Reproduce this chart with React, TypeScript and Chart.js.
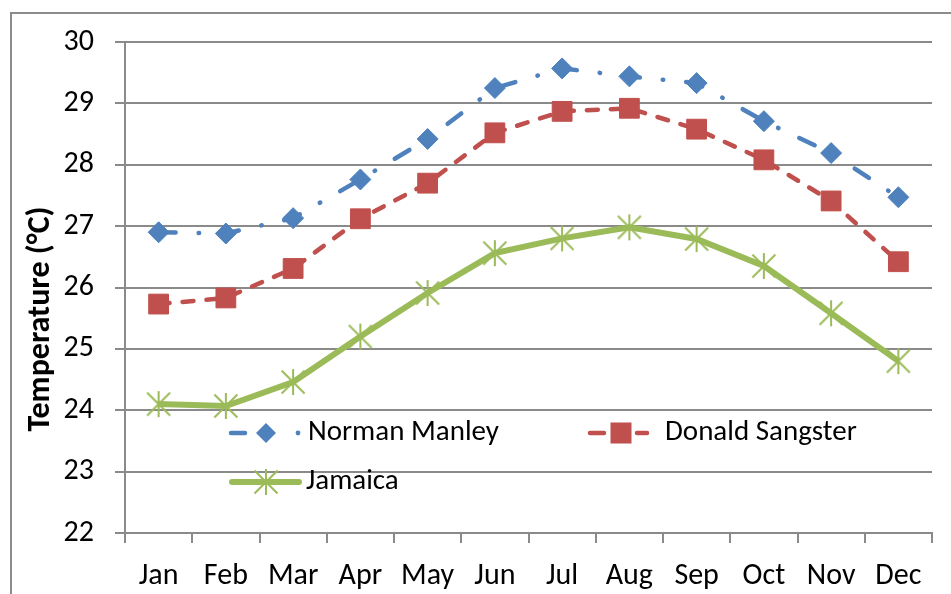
import React, { useEffect, useRef } from "react";
import { Chart, registerables } from "chart.js";

Chart.register(...registerables);

// ---- data ----
const months = ["Jan", "Feb", "Mar", "Apr", "May", "Jun", "Jul", "Aug", "Sep", "Oct", "Nov", "Dec"];
const normanManley = [26.9, 26.88, 27.13, 27.76, 28.42, 29.25, 29.57, 29.44, 29.33, 28.71, 28.19, 27.47];
const donaldSangster = [25.73, 25.83, 26.31, 27.12, 27.7, 28.52, 28.87, 28.92, 28.58, 28.08, 27.41, 26.42];
const jamaica = [24.1, 24.07, 24.46, 25.2, 25.91, 26.56, 26.8, 26.98, 26.79, 26.35, 25.58, 24.8];
const seriesNames = ["Norman Manley", "Donald Sangster", "Jamaica"];
const yMin = 22;
const yMax = 30;
const yStep = 1;
const yTitle = "Temperature (°C)";

// ---- styles ----
const BLUE = "#4F81BD";
const RED = "#C0504D";
const GREEN = "#9BBB59";
const GRID = "#8a8a8a";

function pickFamily(): { family: string; scale: number } {
  const ctx = document.createElement("canvas").getContext("2d")!;
  const probe = "Norman Manley iiWW";
  ctx.font = "100px monospace";
  const mono = ctx.measureText(probe).width;
  let family = "Lato";
  for (const c of ["Carlito", "Lato"]) {
    ctx.font = `100px "${c}", monospace`;
    if (Math.abs(ctx.measureText(probe).width - mono) > 0.5) {
      family = c;
      break;
    }
  }
  ctx.font = `100px "${family}"`;
  const w = ctx.measureText("Norman Manley").width;
  return { family, scale: 659 / w };
}

function makeStar(color: string): HTMLCanvasElement {
  const c = document.createElement("canvas");
  c.width = 30;
  c.height = 30;
  const g = c.getContext("2d")!;
  g.strokeStyle = color;
  g.lineWidth = 2;
  const h = 11.5;
  const v = 13;
  g.beginPath();
  g.moveTo(15 - h, 15 - h);
  g.lineTo(15 + h, 15 + h);
  g.moveTo(15 + h, 15 - h);
  g.lineTo(15 - h, 15 + h);
  g.moveTo(15, 15 - v);
  g.lineTo(15, 15 + v);
  g.stroke();
  return c;
}

export default function App() {
  const ref = useRef<HTMLCanvasElement | null>(null);

  useEffect(() => {
    if (!ref.current) return;
    const { family, scale } = pickFamily();
    const fs = (px: number) => Math.round(px * scale * 10) / 10;
    const tickFont = { family, size: fs(30) };
    const star = makeStar(GREEN);

    const NM_DASH = [17, 23, 0.5, 23];
    const DS_DASH = [11, 13];

    const decor = {
      id: "decor",
      beforeDraw(chart: any) {
        const ctx = chart.ctx as CanvasRenderingContext2D;
        ctx.save();
        ctx.strokeStyle = "#8c8c8c";
        ctx.lineWidth = 2;
        ctx.strokeRect(11, 13, 1200, 1200);
        ctx.restore();
      },
      afterDraw(chart: any) {
        const ctx = chart.ctx as CanvasRenderingContext2D;
        // axis title
        ctx.save();
        ctx.translate(41, 319);
        ctx.rotate(-Math.PI / 2);
        ctx.font = `bold ${fs(32)}px "${family}"`;
        ctx.textAlign = "center";
        ctx.textBaseline = "middle";
        ctx.fillStyle = "#000";
        ctx.fillText(yTitle, 0, 0);
        ctx.restore();

        // legend
        ctx.save();
        ctx.font = `${fs(29)}px "${family}"`;
        ctx.textBaseline = "middle";
        ctx.textAlign = "left";
        ctx.lineCap = "round";

        // Norman Manley
        let y = 433;
        ctx.strokeStyle = BLUE;
        ctx.fillStyle = BLUE;
        ctx.lineWidth = 4.5;
        ctx.beginPath();
        ctx.moveTo(231, y);
        ctx.lineTo(245, y);
        ctx.stroke();
        ctx.beginPath();
        ctx.arc(298, y, 2.4, 0, Math.PI * 2);
        ctx.fill();
        ctx.beginPath();
        ctx.moveTo(266 - 10, y);
        ctx.lineTo(266, y - 10);
        ctx.lineTo(266 + 10, y);
        ctx.lineTo(266, y + 10);
        ctx.closePath();
        ctx.fill();
        ctx.fillStyle = "#000";
        ctx.fillText(seriesNames[0], 308, y);

        // Donald Sangster
        ctx.strokeStyle = RED;
        ctx.fillStyle = RED;
        ctx.beginPath();
        ctx.moveTo(590, y);
        ctx.lineTo(604, y);
        ctx.moveTo(637, y);
        ctx.lineTo(647, y);
        ctx.stroke();
        ctx.fillRect(621 - 10.5, y - 10.5, 21, 21);
        ctx.fillStyle = "#000";
        ctx.fillText(seriesNames[1], 665, y);

        // Jamaica
        y = 482;
        ctx.strokeStyle = GREEN;
        ctx.lineWidth = 6;
        ctx.beginPath();
        ctx.moveTo(232, y);
        ctx.lineTo(299, y);
        ctx.stroke();
        ctx.drawImage(star, 266 - 15, y - 15);
        ctx.fillStyle = "#000";
        ctx.fillText(seriesNames[2], 306, y);
        ctx.restore();
      },
    };

    const chart = new Chart(ref.current, {
      type: "line",
      data: {
        labels: months,
        datasets: [
          {
            label: seriesNames[0],
            data: normanManley,
            borderColor: BLUE,
            backgroundColor: BLUE,
            borderWidth: 4.5,
            borderDash: NM_DASH,
            borderCapStyle: "round",
            tension: 0,
            pointStyle: "rectRot",
            pointRadius: 10.5,
            pointBackgroundColor: BLUE,
            pointBorderColor: BLUE,
            pointBorderWidth: 1,
          },
          {
            label: seriesNames[1],
            data: donaldSangster,
            borderColor: RED,
            backgroundColor: RED,
            borderWidth: 4.5,
            borderDash: DS_DASH,
            borderCapStyle: "round",
            tension: 0,
            pointStyle: "rect",
            pointRadius: 14,
            pointBackgroundColor: RED,
            pointBorderColor: RED,
            pointBorderWidth: 1,
          },
          {
            label: seriesNames[2],
            data: jamaica,
            borderColor: GREEN,
            backgroundColor: GREEN,
            borderWidth: 6,
            tension: 0,
            pointStyle: star as any,
            pointRadius: 13,
          },
        ],
      },
      options: {
        animation: false,
        responsive: false,
        devicePixelRatio: 1,
        layout: { padding: { left: 0, top: 42, right: 6, bottom: 0 } },
        plugins: {
          legend: { display: false },
          title: { display: false },
          tooltip: { enabled: false },
        },
        scales: {
          x: {
            type: "category",
            offset: true,
            grid: {
              offset: true,
              drawOnChartArea: false,
              drawTicks: true,
              tickLength: 10,
              tickColor: GRID,
              tickWidth: 2,
              color: GRID,
              lineWidth: 2,
            },
            border: { color: GRID, width: 2 },
            ticks: { font: tickFont, color: "#000", padding: 15, maxRotation: 0, autoSkip: false },
            afterFit: (s: any) => {
              s.height = 61;
            },
          },
          y: {
            min: yMin,
            max: yMax,
            grid: {
              color: GRID,
              lineWidth: 2,
              tickLength: 10,
              tickColor: GRID,
              tickWidth: 2,
            },
            border: { color: GRID, width: 2 },
            ticks: { stepSize: yStep, font: tickFont, color: "#000", padding: 21 },
            afterFit: (s: any) => {
              s.width = 125;
            },
          },
        },
      },
      plugins: [decor],
    });

    return () => chart.destroy();
  }, []);

  return (
    <div style={{ position: "fixed", left: 0, top: 0, width: 951, height: 594, background: "#fff" }}>
      <canvas ref={ref} width={951} height={594} style={{ display: "block", width: 951, height: 594 }} />
    </div>
  );
}
